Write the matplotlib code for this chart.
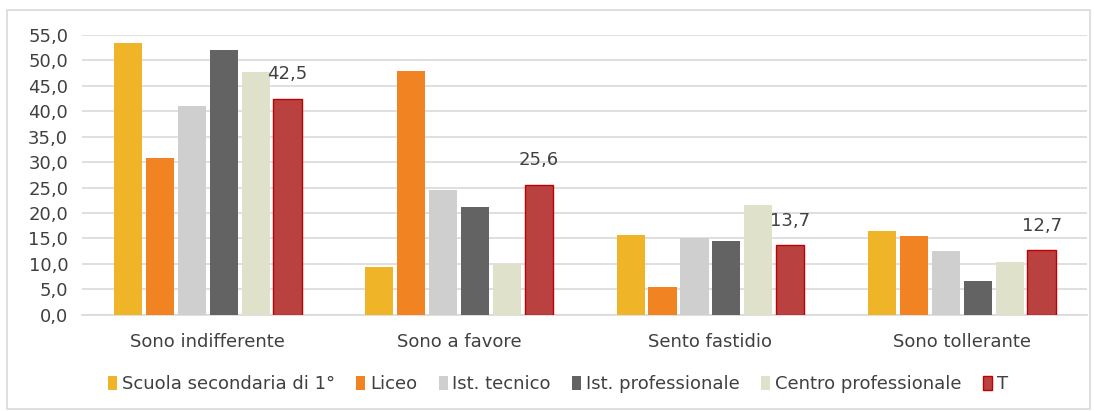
import numpy as np
import matplotlib
matplotlib.use("Agg")
import matplotlib.pyplot as plt
from matplotlib.patches import Rectangle

plt.rcParams['font.family'] = ['DejaVu Sans']

# Data
categories = ['Sono indifferente', 'Sono a favore', 'Sento fastidio', 'Sono tollerante']
series_names = ['Scuola secondaria di 1°', 'Liceo', 'Ist. tecnico',
                'Ist. professionale', 'Centro professionale', 'T']
scuola_sec = [53.4, 9.4, 15.7, 16.5]
liceo = [30.9, 48.0, 5.4, 15.5]
ist_tecnico = [41.0, 24.5, 15.0, 12.5]
ist_prof = [52.1, 21.2, 14.5, 6.7]
centro_prof = [47.7, 10.0, 21.5, 10.4]
totale = [42.5, 25.6, 13.7, 12.7]

series = [scuola_sec, liceo, ist_tecnico, ist_prof, centro_prof, totale]
colors = ['#F0B429', '#F28322', '#CFCFCF', '#636363', '#DFE1CA', '#B94240']

text_col = '#404040'

fig = plt.figure(figsize=(10.94, 4.11), dpi=100)
ax = fig.add_axes([0.075, 0.234, 0.919, 0.681])

x = np.arange(len(categories))
width = 0.112
step = 0.127
for i, (vals, col, name) in enumerate(zip(series, colors, series_names)):
    offs = (i - 2.5) * step
    edge = '#C00000' if name == 'T' else col
    bars = ax.bar(x + offs, vals, width, color=col, edgecolor=edge,
                  linewidth=1.0 if name == 'T' else 0, label=name, zorder=3)
    if name == 'T':
        for b, v in zip(bars, vals):
            ax.annotate(f'{v:.1f}'.replace('.', ','),
                        (b.get_x() + b.get_width() / 2, v),
                        xytext=(0, 11), textcoords='offset points',
                        ha='center', va='bottom', fontsize=13, color=text_col)

ax.set_xlim(-0.5, len(categories) - 0.5)
ax.set_ylim(0, 55)
ax.set_yticks(np.arange(0, 56, 5))
ax.set_yticklabels([f'{v:.1f}'.replace('.', ',') for v in np.arange(0, 56, 5)])
ax.set_xticks(x)
ax.set_xticklabels(categories)
ax.tick_params(axis='both', length=0, labelsize=13, colors=text_col)
ax.tick_params(axis='x', pad=13)
ax.tick_params(axis='y', pad=10)
ax.grid(axis='y', color='#D9D9D9', linewidth=1.2, zorder=0)
for s in ['top', 'right', 'left']:
    ax.spines[s].set_visible(False)
ax.spines['bottom'].set_color('#D9D9D9')
ax.spines['bottom'].set_linewidth(1.2)

leg = fig.legend(loc='center', bbox_to_anchor=(0.51, 0.065), ncol=6, frameon=False,
                 fontsize=13, handlelength=0.5, handleheight=0.75,
                 handletextpad=0.25, columnspacing=1.2)
for t in leg.get_texts():
    t.set_color(text_col)

fig.patches.append(Rectangle((0.006, 0.005), 0.99, 0.97, transform=fig.transFigure,
                             fill=False, edgecolor='#D9D9D9', linewidth=1.2))

fig.savefig('out.png', dpi=100)
